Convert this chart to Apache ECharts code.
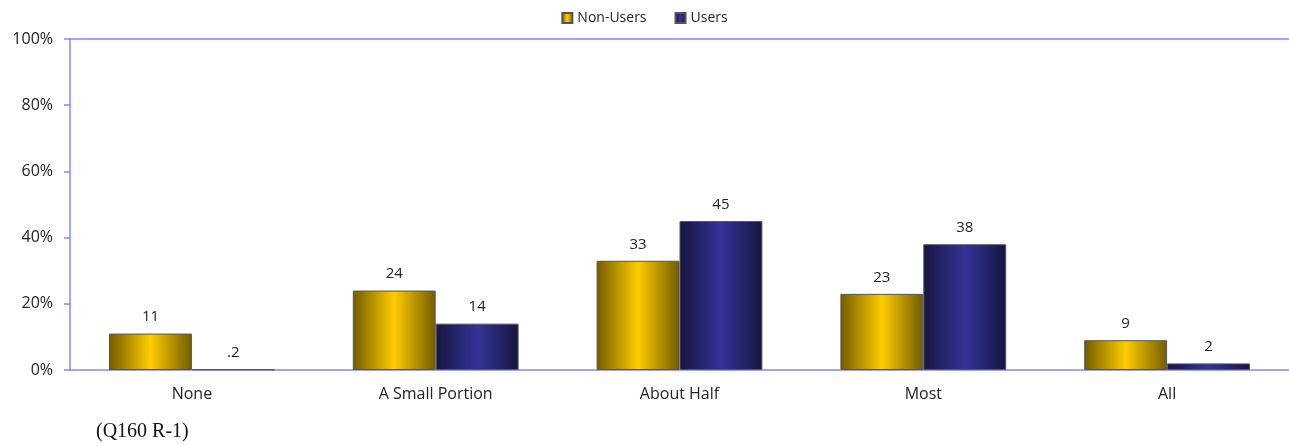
<!DOCTYPE html>
<html>
<head>
<meta charset="utf-8">
<script src="https://cdn.jsdelivr.net/npm/echarts@6/dist/echarts.min.js"></script>
<style>
  html, body { margin: 0; padding: 0; background: #ffffff; }
  #chart { width: 1289px; height: 446px; }
  #note { position: absolute; left: 96px; top: 419px; font-family: "Liberation Serif", "DejaVu Serif", serif; font-size: 20px; color: #111; }
</style>
</head>
<body>
<div id="chart"></div>
<div id="note">(Q160 R-1)</div>
<script>
// Share of items by group, in percent
const categories = ['None', 'A Small Portion', 'About Half', 'Most', 'All'];
const nonUsers = [11, 24, 33, 23, 9];
const users = [0.2, 14, 45, 38, 2];
const yTicks = [0, 20, 40, 60, 80, 100];

const FONT = '"Open Sans", "Noto Sans", sans-serif';

function barGradient(edge, mid) {
  return new echarts.graphic.LinearGradient(0, 0, 1, 0, [
    { offset: 0, color: edge },
    { offset: 0.5, color: mid },
    { offset: 1, color: edge }
  ]);
}

function valueText(v) {
  // values below one are written without the leading zero, e.g. ".2"
  return v < 1 ? String(v).replace(/^0/, '') : String(v);
}

const labelStyle = {
  show: true,
  position: 'top',
  distance: 9,
  fontFamily: FONT,
  fontSize: 15,
  color: '#222',
  formatter: p => valueText(p.value)
};

const chart = echarts.init(document.getElementById('chart'), null, { renderer: 'canvas' });
chart.setOption({
  animation: false,
  backgroundColor: '#ffffff',
  textStyle: { fontFamily: FONT },
  legend: {
    top: 6,
    left: 'center',
    icon: 'rect',
    itemWidth: 10,
    itemHeight: 10,
    itemGap: 28,
    textStyle: { fontFamily: FONT, fontSize: 14, color: '#222' },
    data: ['Non-Users', 'Users']
  },
  grid: { left: 70, right: 0, top: 39, bottom: 76, containLabel: false },
  xAxis: [
    {
      type: 'category',
      data: categories,
      axisLine: { lineStyle: { color: '#8585ff', width: 1.5 } },
      axisTick: { show: false },
      axisLabel: { fontFamily: FONT, fontSize: 16, color: '#222', margin: 16 }
    },
    {
      type: 'category',
      position: 'top',
      data: categories,
      axisLine: { show: true, lineStyle: { color: '#8585ff', width: 1.5 } },
      axisTick: { show: false },
      axisLabel: { show: false }
    }
  ],
  yAxis: {
    type: 'value',
    min: yTicks[0],
    max: yTicks[yTicks.length - 1],
    interval: yTicks[1] - yTicks[0],
    axisLine: { show: true, lineStyle: { color: '#8585ff', width: 1.5 } },
    axisTick: { show: true, length: 6, lineStyle: { color: '#8585ff', width: 1.5 } },
    splitLine: { show: false },
    axisLabel: { fontFamily: FONT, fontSize: 16, color: '#222', margin: 17, formatter: '{value}%' }
  },
  series: [
    {
      name: 'Non-Users',
      type: 'bar',
      data: nonUsers,
      barGap: '0%',
      barCategoryGap: '32%',
      itemStyle: { color: barGradient('#735c00', '#ffcc00'), borderColor: '#555', borderWidth: 1 },
      label: labelStyle
    },
    {
      name: 'Users',
      type: 'bar',
      data: users,
      barGap: '0%',
      barCategoryGap: '32%',
      itemStyle: { color: barGradient('#16163f', '#333399'), borderColor: '#555', borderWidth: 1 },
      label: labelStyle
    }
  ]
});
</script>
</body>
</html>
